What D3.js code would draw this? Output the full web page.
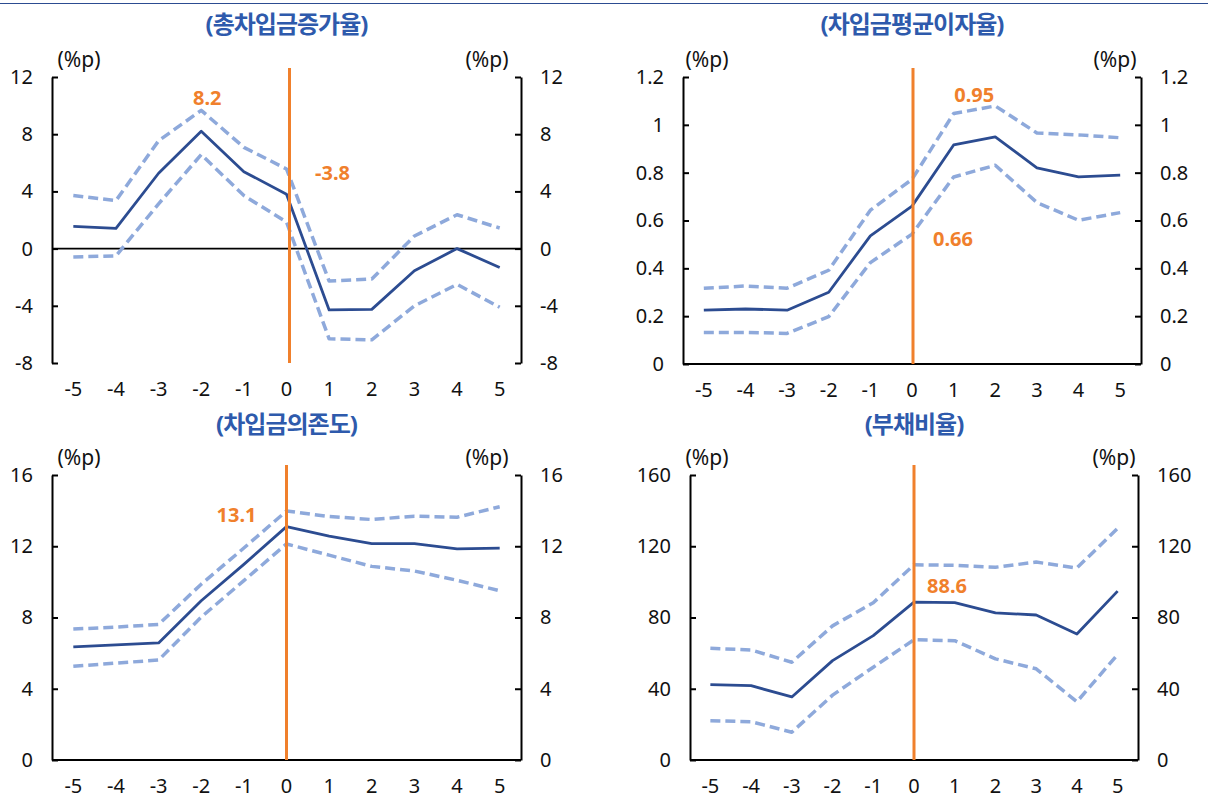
<!DOCTYPE html>
<html>
<head>
<meta charset="utf-8">
<script src="https://cdn.jsdelivr.net/npm/d3@7"></script>
<style>
  html, body { margin: 0; padding: 0; background: #fff; }
  svg { display: block; }
  text { font-family: "Noto Sans", "Noto Sans CJK KR", sans-serif; }
</style>
</head>
<body>
<svg id="chart" width="1208" height="798"></svg>
<script>
// Event-time categories (years relative to event)
const periods = [-5, -4, -3, -2, -1, 0, 1, 2, 3, 4, 5];

// 총차입금증가율
const growthMain  = [1.55, 1.42, 5.27, 8.2, 5.38, 3.8, -4.29, -4.25, -1.55, 0.0, -1.32];
const growthUpper = [3.71, 3.36, 7.54, 9.67, 7.08, 5.57, -2.27, -2.13, 0.88, 2.37, 1.44];
const growthLower = [-0.58, -0.51, 3.13, 6.57, 3.71, 1.86, -6.31, -6.38, -4.0, -2.5, -4.1];
const growthTicks = [-8, -4, 0, 4, 8, 12];

// 차입금평균이자율
const rateMain  = [0.225, 0.23, 0.225, 0.30, 0.536, 0.66, 0.916, 0.95, 0.82, 0.782, 0.79];
const rateUpper = [0.317, 0.326, 0.317, 0.392, 0.643, 0.772, 1.047, 1.079, 0.966, 0.958, 0.946];
const rateLower = [0.132, 0.132, 0.128, 0.198, 0.424, 0.543, 0.782, 0.831, 0.675, 0.601, 0.633];
const rateTicks = [0, 0.2, 0.4, 0.6, 0.8, 1, 1.2];

// 차입금의존도
const relianceMain  = [6.35, 6.46, 6.57, 8.94, 10.98, 13.1, 12.57, 12.15, 12.15, 11.85, 11.89];
const relianceUpper = [7.35, 7.46, 7.61, 9.87, 11.9, 13.98, 13.67, 13.5, 13.69, 13.63, 14.22];
const relianceLower = [5.26, 5.44, 5.61, 8.02, 10.07, 12.13, 11.5, 10.87, 10.61, 10.09, 9.5];
const relianceTicks = [0, 4, 8, 12, 16];

// 부채비율
const debtMain  = [42.3, 41.7, 35.4, 55.8, 69.8, 88.6, 88.3, 82.6, 81.4, 70.7, 94.8];
const debtUpper = [62.7, 61.8, 54.9, 75.3, 88.3, 109.6, 109.3, 108.2, 111.1, 107.8, 130.1];
const debtLower = [22.1, 21.5, 15.6, 36.4, 52.1, 67.5, 67.0, 56.8, 51.2, 32.7, 59.2];
const debtTicks = [0, 40, 80, 120, 160];

const unitLabel = "(%p)";

const COLORS = {
  main: "#2C4C91",
  band: "#8EA9DB",
  event: "#F0802C",
  title: "#2E5AAC",
  axis: "#000"
};

const TICK_FONT = 20;
const plain = d => String(d);   // keeps an ASCII hyphen for negatives

const svg = d3.select("#chart");

// top separator rule
svg.append("line")
  .attr("x1", 0).attr("x2", 1208).attr("y1", 3.5).attr("y2", 3.5)
  .attr("stroke", "#2C4C91").attr("stroke-width", 1.2);

const panels = [
  {
    title: "(총차입금증가율)", main: growthMain, upper: growthUpper, lower: growthLower,
    ticks: growthTicks,
    left: 52, right: 521, top: 77, bottom: 363, titleY: 23, unitY: 59,
    unitLeftX: 79, unitRightX: 487, eventTop: 68, eventShift: 3, zeroLine: true, bottomAxis: false,
    labels: [
      { text: "8.2", x: periods[3], value: growthMain[3], dx: 6, dy: -34 },
      { text: "-3.8", x: periods[5], value: growthMain[5], dx: 46, dy: -22 }
    ]
  },
  {
    title: "(차입금평균이자율)", main: rateMain, upper: rateUpper, lower: rateLower,
    ticks: rateTicks,
    left: 683, right: 1141, top: 77, bottom: 364, titleY: 23, unitY: 59,
    unitLeftX: 707, unitRightX: 1115, eventTop: 68, eventShift: 1, zeroLine: false, bottomAxis: true,
    labels: [
      { text: "0.95", x: periods[7], value: rateMain[7], dx: -21, dy: -42 },
      { text: "0.66", x: periods[5], value: rateMain[5], dx: 41, dy: 32 }
    ]
  },
  {
    title: "(차입금의존도)", main: relianceMain, upper: relianceUpper, lower: relianceLower,
    ticks: relianceTicks,
    left: 52, right: 521, top: 475, bottom: 760, titleY: 423, unitY: 457,
    unitLeftX: 79, unitRightX: 487, eventTop: 465, eventShift: 0, zeroLine: false, bottomAxis: true,
    labels: [
      { text: "13.1", x: periods[5], value: relianceMain[5], dx: -50, dy: -12 }
    ]
  },
  {
    title: "(부채비율)", main: debtMain, upper: debtUpper, lower: debtLower,
    ticks: debtTicks,
    left: 690, right: 1138, top: 475, bottom: 760, titleY: 423, unitY: 457,
    unitLeftX: 707, unitRightX: 1114, eventTop: 465, eventShift: 0, zeroLine: false, bottomAxis: true,
    labels: [
      { text: "88.6", x: periods[5], value: debtMain[5], dx: 33, dy: -17 }
    ]
  }
];

panels.forEach(p => {
  const g = svg.append("g");
  const x = d3.scaleBand().domain(periods).range([p.left, p.right]).paddingInner(0).paddingOuter(0);
  const cx = d => x(d) + x.bandwidth() / 2;
  const y = d3.scaleLinear().domain(d3.extent(p.ticks)).range([p.bottom, p.top]);

  // title
  g.append("text")
    .attr("x", cx(0)).attr("y", p.titleY)
    .attr("text-anchor", "middle").attr("dominant-baseline", "central")
    .attr("font-family", "'Noto Sans CJK KR', sans-serif")
    .attr("font-weight", "bold").attr("font-size", 24)
    .attr("letter-spacing", -1)
    .attr("fill", COLORS.title)
    .text(p.title);

  // unit labels
  [p.unitLeftX, p.unitRightX].forEach(ux => {
    g.append("text")
      .attr("x", ux).attr("y", p.unitY)
      .attr("text-anchor", "middle").attr("dominant-baseline", "central")
      .attr("font-size", 21).attr("fill", "#111")
      .text(unitLabel);
  });

  // left axis
  const leftAxis = d3.axisLeft(y).tickValues(p.ticks).tickFormat(plain)
    .tickSize(-6).tickSizeOuter(0).tickPadding(19);
  const la = g.append("g").attr("transform", `translate(${p.left},0)`).call(leftAxis);

  // right axis
  const rightAxis = d3.axisRight(y).tickValues(p.ticks).tickFormat(plain)
    .tickSize(-6).tickSizeOuter(0).tickPadding(19);
  const ra = g.append("g").attr("transform", `translate(${p.right},0)`).call(rightAxis);

  [la, ra].forEach(a => {
    a.select(".domain").attr("stroke", COLORS.axis).attr("stroke-width", 2);
    a.selectAll(".tick line").attr("stroke", COLORS.axis).attr("stroke-width", 2);
    a.selectAll(".tick text").attr("font-size", TICK_FONT).attr("fill", "#111")
      .attr("font-family", "'Noto Sans', sans-serif");
  });

  // category axis
  const bottomAxis = d3.axisBottom(x).tickSize(0).tickPadding(19).tickFormat(plain);
  const ba = g.append("g").attr("transform", `translate(0,${p.bottom})`).call(bottomAxis);
  ba.selectAll(".tick text").attr("font-size", TICK_FONT).attr("fill", "#111")
    .attr("font-family", "'Noto Sans', sans-serif");
  if (p.bottomAxis) {
    ba.select(".domain").attr("stroke", COLORS.axis).attr("stroke-width", 2).attr("d", `M${p.left},0H${p.right}`);
  } else {
    ba.select(".domain").remove();
  }

  // zero reference line
  if (p.zeroLine) {
    g.append("line")
      .attr("x1", p.left).attr("x2", p.right)
      .attr("y1", y(0)).attr("y2", y(0))
      .attr("stroke", COLORS.axis).attr("stroke-width", 1.8);
  }

  const line = d3.line().x((d, i) => cx(periods[i])).y(d => y(d));

  // confidence band lines
  [p.upper, p.lower].forEach(series => {
    g.append("path").datum(series)
      .attr("d", line).attr("fill", "none")
      .attr("stroke", COLORS.band).attr("stroke-width", 3.5)
      .attr("stroke-dasharray", "10,5")
      .attr("stroke-linejoin", "round");
  });

  // point estimate
  g.append("path").datum(p.main)
    .attr("d", line).attr("fill", "none")
    .attr("stroke", COLORS.main).attr("stroke-width", 2.8)
    .attr("stroke-linejoin", "round");

  // event marker at t = 0
  g.append("line")
    .attr("x1", cx(0) + p.eventShift).attr("x2", cx(0) + p.eventShift)
    .attr("y1", p.eventTop).attr("y2", p.bottom)
    .attr("stroke", COLORS.event).attr("stroke-width", 3);

  // value callouts
  p.labels.forEach(l => {
    g.append("text")
      .attr("x", cx(l.x) + l.dx).attr("y", y(l.value) + l.dy)
      .attr("text-anchor", "middle").attr("dominant-baseline", "central")
      .attr("font-weight", "bold").attr("font-size", 20)
      .attr("fill", COLORS.event)
      .text(l.text);
  });
});
</script>
</body>
</html>
